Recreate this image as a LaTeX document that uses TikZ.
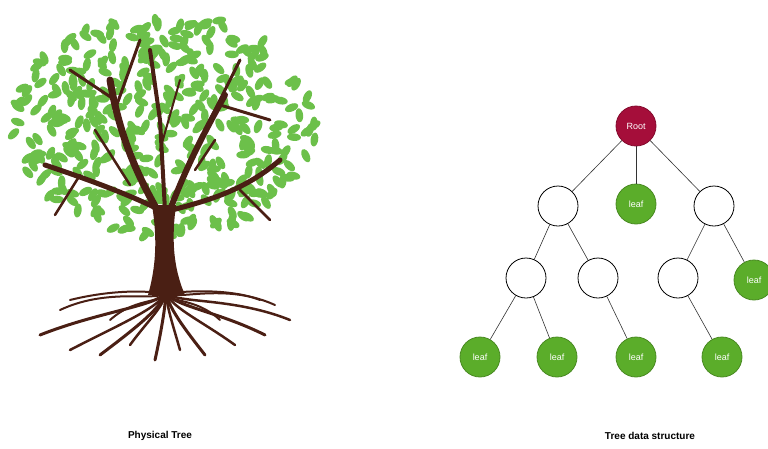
\documentclass[tikz,border=0pt]{standalone}
\usepackage{fontspec}
\setmainfont{Liberation Sans}
\begin{document}
\begin{tikzpicture}[x=1pt,y=-1pt,
  tn/.style={circle,draw=black,line width=0.8pt,minimum size=40pt,inner sep=0pt,font=\small,fill=white},
  lf/.style={tn,fill=leafg,draw=leafg!80!black,text=white},
  rt/.style={tn,fill=rootr,draw=rootr!80!black,text=white},
  ed/.style={draw=black!80,line width=0.6pt},
  br/.style={draw=bark,line cap=round,line join=round},
  lbl/.style={font=\bfseries}]
\definecolor{leafg}{HTML}{5BAD2A}
\definecolor{rootr}{HTML}{A50E3A}
\definecolor{bark}{HTML}{4A1F14}
\definecolor{green1}{HTML}{6CC04A}
\useasboundingbox (0,0) rectangle (768,448);
% leaves
\pgfmathsetseed{7}
\foreach \i in {1,...,430}{
  \pgfmathsetmacro{\a}{360*rnd}
  \pgfmathsetmacro{\r}{sqrt(rnd)}
  \pgfmathsetmacro{\px}{165+152*\r*cos(\a)}
  \pgfmathsetmacro{\py}{125+112*\r*sin(\a)}
  \pgfmathsetmacro{\rot}{360*rnd}
  \fill[green1,rotate around={\rot:(\px,\py)}] (\px,\py) ellipse (7 and 3.8);
}
% trunk and branches
\fill[bark] (148,295) .. controls (158,260) and (156,230) .. (152,205) -- (176,205) .. controls (172,235) and (172,265) .. (185,295) -- cycle;
\draw[br,line width=7pt] (160,215) .. controls (140,180) and (120,140) .. (110,80);
\draw[br,line width=6pt] (168,215) .. controls (185,170) and (200,140) .. (225,95);
\draw[br,line width=5pt] (160,210) .. controls (130,195) and (90,180) .. (45,165);
\draw[br,line width=5pt] (172,210) .. controls (210,200) and (245,190) .. (280,160);
\draw[br,line width=4pt] (165,210) -- (160,120) -- (150,50);
\draw[br,line width=3pt] (115,100) -- (70,70);
\draw[br,line width=3pt] (115,110) -- (140,40);
\draw[br,line width=3pt] (210,120) -- (240,60);
\draw[br,line width=3pt] (220,105) -- (270,120);
\draw[br,line width=2.5pt] (80,175) -- (55,215);
\draw[br,line width=2.5pt] (240,190) -- (270,220);
\draw[br,line width=2.5pt] (130,185) -- (95,130);
\draw[br,line width=2.5pt] (195,170) -- (215,140);
\draw[br,line width=2pt] (160,150) -- (180,80);
% roots
\foreach \ex/\ey/\w in {40/335/3,70/350/2.5,100/355/3,130/345/2.5,155/360/3,180/350/2.5,205/355/3,235/345/2.5,265/335/3,290/320/2.5,60/310/2,110/320/2,220/320/2,275/305/2}{
  \draw[br,line width=\w pt] (166,290) .. controls (166,305) and (\ex*0.5+83,\ey-25) .. (\ex,\ey);
}
\draw[br,line width=2pt] (70,300) .. controls (90,295) and (120,290) .. (150,292);
\draw[br,line width=2pt] (260,300) .. controls (240,292) and (210,290) .. (182,292);
% data tree
\node[rt] (r) at (636,126) {Root};
\node[tn] (a) at (558,206) {};
\node[lf] (b) at (636,204) {leaf};
\node[tn] (c) at (714,206) {};
\node[tn] (d) at (526,278) {};
\node[tn] (e) at (598,278) {};
\node[tn] (f) at (678,278) {};
\node[lf] (g) at (754,280) {leaf};
\node[lf] (h) at (480,357) {leaf};
\node[lf] (i) at (557,357) {leaf};
\node[lf] (j) at (636,357) {leaf};
\node[lf] (k) at (722,357) {leaf};
\foreach \u/\v in {r/a,r/b,r/c,a/d,a/e,c/f,c/g,d/h,d/i,e/j,f/k}
  \draw[ed] (\u) -- (\v);
\node[lbl] (p) at (160,436) {Physical Tree};
\node[lbl] (q) at (650,436) {Tree data structure};
\end{tikzpicture}
\end{document}
